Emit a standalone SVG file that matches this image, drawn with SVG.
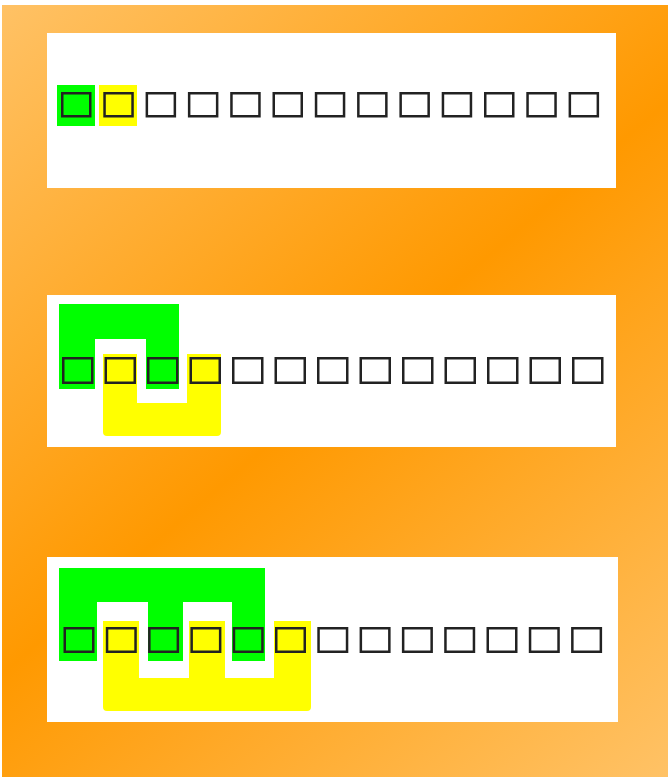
<svg xmlns="http://www.w3.org/2000/svg" width="668" height="777" viewBox="0 0 668 777">
<defs>
<linearGradient id="bg" x1="0" y1="0" x2="668" y2="777" gradientUnits="userSpaceOnUse">
<stop offset="0" stop-color="#ffc266"/>
<stop offset="0.5" stop-color="#ff9900"/>
<stop offset="1" stop-color="#ffc266"/>
</linearGradient>
<style>
.panel{fill:#ffffff}
.sq{fill:none;stroke:#222222;stroke-width:2.5}
.g{fill:#00ff00}
.y{fill:#ffff00}
</style>
</defs>
<rect width="668" height="777" fill="#ffffff"/>
<rect x="2" y="5" width="666" height="772" fill="url(#bg)"/>

<g id="panel1">
<rect class="panel" x="47" y="33" width="569" height="155"/>
<rect class="g" x="57" y="85" width="38" height="41"/>
<rect class="y" x="99" y="85" width="38" height="41"/>
<g transform="translate(61,92)">
<rect class="sq" x="1.25" y="1.25" width="28" height="23"/>
<rect class="sq" x="43.55" y="1.25" width="28" height="23"/>
<rect class="sq" x="85.85" y="1.25" width="28" height="23"/>
<rect class="sq" x="128.15" y="1.25" width="28" height="23"/>
<rect class="sq" x="170.45" y="1.25" width="28" height="23"/>
<rect class="sq" x="212.75" y="1.25" width="28" height="23"/>
<rect class="sq" x="255.05" y="1.25" width="28" height="23"/>
<rect class="sq" x="297.35" y="1.25" width="28" height="23"/>
<rect class="sq" x="339.65" y="1.25" width="28" height="23"/>
<rect class="sq" x="381.95" y="1.25" width="28" height="23"/>
<rect class="sq" x="424.25" y="1.25" width="28" height="23"/>
<rect class="sq" x="466.55" y="1.25" width="28" height="23"/>
<rect class="sq" x="508.85" y="1.25" width="28" height="23"/>
</g>
</g>

<g id="panel2">
<rect class="panel" x="47" y="295" width="569" height="152"/>
<path class="g" d="M59,304 H179 V389 H146 V339 H95 V389 H59 Z"/>
<path class="y" d="M103,354 H137 V403 H187 V354 H221 V432 Q221,436 217,436 H107 Q103,436 103,432 Z"/>
<g transform="translate(62,357)">
<rect class="sq" x="1.25" y="1.25" width="29" height="24.5"/>
<rect class="sq" x="43.75" y="1.25" width="29" height="24.5"/>
<rect class="sq" x="86.25" y="1.25" width="29" height="24.5"/>
<rect class="sq" x="128.75" y="1.25" width="29" height="24.5"/>
<rect class="sq" x="171.25" y="1.25" width="29" height="24.5"/>
<rect class="sq" x="213.75" y="1.25" width="29" height="24.5"/>
<rect class="sq" x="256.25" y="1.25" width="29" height="24.5"/>
<rect class="sq" x="298.75" y="1.25" width="29" height="24.5"/>
<rect class="sq" x="341.25" y="1.25" width="29" height="24.5"/>
<rect class="sq" x="383.75" y="1.25" width="29" height="24.5"/>
<rect class="sq" x="426.25" y="1.25" width="29" height="24.5"/>
<rect class="sq" x="468.75" y="1.25" width="29" height="24.5"/>
<rect class="sq" x="511.25" y="1.25" width="29" height="24.5"/>
</g>
</g>

<g id="panel3">
<rect class="panel" x="47" y="557" width="571" height="165"/>
<path class="g" d="M59,568 H265 V661 H232 V602 H183 V661 H148 V602 H97 V661 H59 Z"/>
<path class="y" d="M103,621 H139 V678 H189 V621 H225 V678 H274 V621 H311 V707 Q311,711 307,711 H107 Q103,711 103,707 Z"/>
<g transform="translate(63.5,627)">
<rect class="sq" x="1.25" y="1.25" width="28.5" height="23.5"/>
<rect class="sq" x="43.55" y="1.25" width="28.5" height="23.5"/>
<rect class="sq" x="85.85" y="1.25" width="28.5" height="23.5"/>
<rect class="sq" x="128.15" y="1.25" width="28.5" height="23.5"/>
<rect class="sq" x="170.45" y="1.25" width="28.5" height="23.5"/>
<rect class="sq" x="212.75" y="1.25" width="28.5" height="23.5"/>
<rect class="sq" x="255.05" y="1.25" width="28.5" height="23.5"/>
<rect class="sq" x="297.35" y="1.25" width="28.5" height="23.5"/>
<rect class="sq" x="339.65" y="1.25" width="28.5" height="23.5"/>
<rect class="sq" x="381.95" y="1.25" width="28.5" height="23.5"/>
<rect class="sq" x="424.25" y="1.25" width="28.5" height="23.5"/>
<rect class="sq" x="466.55" y="1.25" width="28.5" height="23.5"/>
<rect class="sq" x="508.85" y="1.25" width="28.5" height="23.5"/>
</g>
</g>
</svg>
